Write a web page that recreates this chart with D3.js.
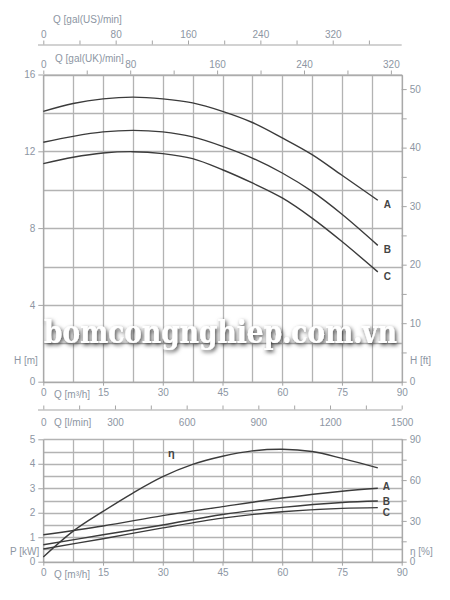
<!DOCTYPE html>
<html>
<head>
<meta charset="utf-8">
<script src="https://cdn.jsdelivr.net/npm/d3@7"></script>
<style>
  body { margin: 0; background: #fff; }
  svg text { font-family: "Liberation Sans", Arial, sans-serif; }
</style>
</head>
<body>
<svg id="chart" width="450" height="600"></svg>
<script>
// -------- pump curve data --------
const flowQ = [0, 7.5, 15, 22.5, 30, 37.5, 45, 52.5, 60, 67.5, 75, 84];
const headA = [14.08, 14.49, 14.73, 14.82, 14.73, 14.52, 14.08, 13.5, 12.7, 11.83, 10.75, 9.45];
const headB = [12.47, 12.78, 13.01, 13.09, 13.01, 12.75, 12.26, 11.65, 10.87, 9.91, 8.72, 7.1];
const headC = [11.36, 11.69, 11.91, 11.98, 11.88, 11.62, 11.04, 10.35, 9.57, 8.52, 7.3, 5.72];

const powerQ = [0, 15, 30, 45, 60, 75, 84];
const powerA = [1.1, 1.46, 1.88, 2.25, 2.6, 2.88, 3.0];
const powerB = [0.69, 1.1, 1.5, 1.93, 2.22, 2.42, 2.48];
const powerC = [0.52, 0.94, 1.38, 1.78, 2.04, 2.18, 2.21];

const effQ = [0, 7.5, 15, 22.5, 30, 37.5, 45, 52.5, 60, 67.5, 75, 84];
const effEta = [3.5, 22.5, 37, 50.5, 62.5, 71.5, 77.5, 81.5, 82.7, 81, 76, 69];

const curveNames = ["A", "B", "C"];
const qTicks = [0, 15, 30, 45, 60, 75, 90];
const headTicks = [0, 4, 8, 12, 16];
const powerTicks = [0, 1, 2, 3, 4, 5];
const etaTicks = [0, 15, 30, 45, 60, 75, 90];
const galTicks = [0, 40, 80, 120, 160, 200, 240, 280, 320, 360];
const lminTicks = [0, 150, 300, 450, 600, 750, 900, 1050, 1200, 1350, 1500];

// unit conversions
const UK_PER_M3H = 1000 / 60 / 4.54609,
  US_PER_M3H = 1000 / 60 / 3.78541,
  LMIN_PER_M3H = 1000 / 60,
  FT_PER_M = 1 / 0.3048,
  QMAX = 90;

const svg = d3.select("#chart");
const textCol = "#8d96a3",
  gridCol = "#b3b3b3",
  lineCol = "#3b3b3b";

// x scales (all share the same pixel range)
const x = d3.scaleLinear().domain([0, QMAX]).range([43.3, 401.7]);
const xUK = d3.scaleLinear().domain([0, QMAX * UK_PER_M3H]).range(x.range());
const xUS = d3.scaleLinear().domain([0, QMAX * US_PER_M3H]).range(x.range());
const xL = d3.scaleLinear().domain([0, QMAX * LMIN_PER_M3H]).range(x.range());

// y scales
const yH = d3.scaleLinear().domain([0, 16]).range([381.7, 74.5]);
const yFt = d3.scaleLinear().domain([0, 16 * FT_PER_M]).range(yH.range());
const yP = d3.scaleLinear().domain([0, 5]).range([561.7, 439.3]);
const yEta = d3.scaleLinear().domain([0, 90]).range(yP.range());

// styling helper for axes
function styleAxis(g) {
  g.selectAll("path.domain").attr("stroke", "#a5a5a5");
  g.selectAll(".tick line").attr("stroke", "#a5a5a5");
  g.selectAll(".tick text").attr("fill", textCol).style("font-size", "10px");
}

function label(xp, yp, txt, anchor) {
  svg.append("text")
    .attr("x", xp).attr("y", yp)
    .attr("text-anchor", anchor || "start")
    .attr("fill", textCol)
    .style("font-size", "10px")
    .text(txt);
}

// ---------------- grids ----------------
const gridQ = d3.range(0, QMAX + 0.1, 7.5);
const gridH = d3.range(0, 16.1, 2);
const gridP = d3.range(0, 5.01, 0.5);

// snap to the pixel grid so the thin lines stay crisp
const snap = v => Math.round(v) + 0.5;

const grid = svg.append("g").attr("class", "grid");
function gridLine(x1, x2, y1, y2) {
  grid.append("line")
    .attr("x1", snap(x1)).attr("x2", snap(x2))
    .attr("y1", snap(y1)).attr("y2", snap(y2))
    .attr("stroke", gridCol)
    .attr("stroke-width", 1.3);
}
gridQ.forEach(q => gridLine(x(q), x(q), yH(16), yH(0)));
gridH.forEach(h => gridLine(x(0), x(QMAX), yH(h), yH(h)));
gridQ.forEach(q => gridLine(x(q), x(q), yP(5), yP(0)));
gridP.forEach(p => gridLine(x(0), x(QMAX), yP(p), yP(p)));

// ---------------- axes: head chart ----------------
const fmtGal = d => (d % 80 === 0 ? d : "");

svg.append("g").attr("transform", "translate(0,44.5)")
  .call(d3.axisTop(xUS).tickValues(galTicks.filter(d => d <= xUS.domain()[1])).tickFormat(fmtGal).tickSize(4).tickSizeOuter(0))
  .call(styleAxis)
  .call(g => g.select("path.domain").attr("d", "M38,0.5H401.7"));
label(53, 23, "Q [gal(US)/min]");

svg.append("g").attr("transform", `translate(0,${yH(16)})`)
  .call(d3.axisTop(xUK).tickValues(galTicks.filter(d => d <= xUK.domain()[1])).tickFormat(fmtGal).tickSize(4).tickSizeOuter(0))
  .call(styleAxis);
label(55, 62, "Q [gal(UK)/min]");

svg.append("g").attr("transform", `translate(${x(0)},0)`)
  .call(d3.axisLeft(yH).tickValues(headTicks).tickSize(5).tickSizeOuter(0))
  .call(styleAxis);
label(14, 364, "H [m]");

svg.append("g").attr("transform", `translate(${x(QMAX)},0)`)
  .call(d3.axisRight(yFt).tickValues(d3.range(0, 51, 5)).tickFormat(d => (d % 10 === 0 ? d : "")).tickSize(5).tickSizeOuter(0))
  .call(styleAxis);
label(410, 364, "H [ft]");

svg.append("g").attr("transform", `translate(0,${yH(0)})`)
  .call(d3.axisBottom(x).tickValues(qTicks).tickSize(4).tickSizeOuter(0))
  .call(styleAxis);
label(54, 398, "Q [m³/h]");

// ---------------- axes: power chart ----------------
svg.append("g").attr("transform", "translate(0,409.5)")
  .call(d3.axisTop(xL).tickValues(lminTicks).tickFormat(d => (d % 300 === 0 ? d : "")).tickSize(4).tickSizeOuter(0))
  .call(styleAxis)
  .call(g => g.select("path.domain").attr("d", "M38,0.5H401.7"))
  .call(g => g.selectAll(".tick text").attr("y", 9).attr("dy", "0.71em"));
label(54, 425.5, "Q [l/min]");

svg.append("g").attr("transform", `translate(${x(0)},0)`)
  .call(d3.axisLeft(yP).tickValues(powerTicks).tickFormat(d3.format("d")).tickSize(5).tickSizeOuter(0))
  .call(styleAxis);
label(10, 555, "P [kW]");

svg.append("g").attr("transform", `translate(${x(QMAX)},0)`)
  .call(d3.axisRight(yEta).tickValues(etaTicks).tickFormat(d => (d % 30 === 0 ? d : "")).tickSize(5).tickSizeOuter(0))
  .call(styleAxis);
label(410, 555, "η [%]");

svg.append("g").attr("transform", `translate(0,${yP(0)})`)
  .call(d3.axisBottom(x).tickValues(qTicks).tickSize(4).tickSizeOuter(0))
  .call(styleAxis);
label(54, 578, "Q [m³/h]");

// ---------------- curves ----------------
const headLine = d3.line()
  .x((d, i) => x(flowQ[i]))
  .y(d => yH(d))
  .curve(d3.curveCatmullRom);

const powerLine = d3.line()
  .x((d, i) => x(powerQ[i]))
  .y(d => yP(d))
  .curve(d3.curveCatmullRom);

const etaLine = d3.line()
  .x((d, i) => x(effQ[i]))
  .y(d => yEta(d))
  .curve(d3.curveCatmullRom);

const curves = svg.append("g").attr("fill", "none").attr("stroke", lineCol).attr("stroke-width", 1.4);

function curveLabel(xp, yp, txt) {
  svg.append("text")
    .attr("x", xp).attr("y", yp)
    .attr("fill", "#444")
    .style("font-size", "10px")
    .style("font-weight", "bold")
    .text(txt);
}

// label offsets below each curve end (head chart / power chart)
const headLabelDy = [7.5, 7.5, 8.5];
const powerLabelDy = [2, 4.5, 8];

[headA, headB, headC].forEach(function (s, k) {
  curves.append("path").attr("d", headLine(s));
  curveLabel(x(flowQ[flowQ.length - 1]) + 6, yH(s[s.length - 1]) + headLabelDy[k], curveNames[k]);
});

[powerA, powerB, powerC].forEach(function (s, k) {
  curves.append("path").attr("d", powerLine(s));
  curveLabel(x(powerQ[powerQ.length - 1]) + 5, yP(s[s.length - 1]) + powerLabelDy[k], curveNames[k]);
});

curves.append("path").attr("d", etaLine(effEta));
svg.append("text")
  .attr("x", 168).attr("y", 457)
  .attr("fill", "#444")
  .style("font-size", "11px")
  .style("font-weight", "bold")
  .text("η");

// ---------------- watermark ----------------
const defs = svg.append("defs");
const shadow = defs.append("filter").attr("id", "wmShadow")
  .attr("x", "-5%").attr("y", "-30%").attr("width", "110%").attr("height", "160%");
shadow.append("feDropShadow")
  .attr("dx", 1.5).attr("dy", 2)
  .attr("stdDeviation", 2)
  .attr("flood-color", "#000")
  .attr("flood-opacity", 0.75);

svg.append("text")
  .attr("x", 44).attr("y", 343)
  .attr("textLength", 353)
  .attr("lengthAdjust", "spacingAndGlyphs")
  .attr("fill", "#fff")
  .attr("filter", "url(#wmShadow)")
  .style("font-family", "'DejaVu Serif', 'Liberation Serif', serif")
  .style("font-weight", "bold")
  .style("font-size", "32px")
  .text("bomcongnghiep.com.vn");
</script>
</body>
</html>
